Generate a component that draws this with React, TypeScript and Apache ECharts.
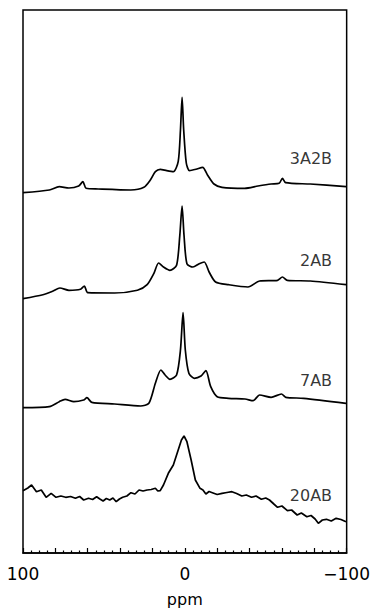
import React, { useEffect, useRef } from "react";
import * as echarts from "echarts";

// Chemical shift (ppm) and intensity (arbitrary units) for each spectrum
const ppm3A2B = [100, 83.7, 77.6, 71.6, 65.6, 63, 61, 53.5, 33.4, 25.3, 21.3, 18.2, 15.2, 11.2, 7.1, 4.1, 2.7, 1.7, 0.7, -0.9, -2.9, -6.9, -11, -14, -18, -23, -37, -45.2, -53.3, -58.3, -60.3, -62.3, -77.5, -99.6];
const int3A2B = [-2.7, 0, 3.3, 2, 4, 8.3, 1.7, 1, 0, 2.7, 10, 18.3, 20.7, 19.3, 18.3, 28.3, 60, 92.7, 60, 27, 19.3, 20.7, 22.7, 15, 6, 2.7, 1.7, 4, 6, 6.7, 11.7, 7.3, 6, 3.3];

const ppm2AB = [100, 87.7, 81.7, 77.2, 71.6, 64.5, 62.1, 60, 43.4, 29.3, 23.3, 19.2, 16.2, 13.2, 9.2, 5.1, 3.1, 1.7, 0.5, -1.3, -5, -8.9, -12, -15, -19, -27, -39, -46.2, -57.3, -60.3, -63.3, -77.5, -99.6];
const int2AB = [-8.7, -4.7, -1.3, 2, -0.3, 0.7, 4, -2.7, -3, -0.3, 5.3, 16.3, 27, 23, 19.7, 24.7, 54.7, 84, 54.7, 26.3, 23, 26.3, 28, 18, 8, 5.3, 3, 9, 9.7, 13, 9.7, 9, 5.3];

const ppm7AB = [100, 83.7, 77.6, 74, 68.6, 62.5, 60.5, 57.5, 43.4, 27.3, 22.2, 18.2, 14.8, 12.2, 9.2, 5.1, 2.7, 1.1, -0.3, -2.5, -5.9, -10, -13, -16, -20, -27, -37.2, -42.2, -46.2, -53.3, -59.7, -62.4, -73.4, -99.6];
const int7AB = [-2.7, -1.7, 3.3, 5.7, 3.3, 5, 7.3, 2.7, 1, -1, 1.7, 21.7, 35, 30, 25.7, 30, 55, 92.3, 55, 31.7, 26.7, 29, 34.3, 18.3, 8.3, 6.7, 6, 4.3, 10, 7.7, 11, 7.7, 6.7, 1.7];

const ppm20AB = [100, 97, 94.7, 91.7, 88.7, 85.7, 82.6, 79.6, 76.6, 73.6, 70.6, 67.6, 65, 62.5, 59.5, 57, 54.5, 52.5, 50.5, 48.5, 46.4, 44.4, 42.4, 40.4, 38.4, 35.8, 33.3, 30.8, 28.3, 25.8, 23.3, 20.8, 18.2, 16.7, 15.2, 13.2, 10.2, 7.1, 4.1, 2.1, 0.5, -1.3, -3.9, -6.5, -9.4, -11.2, -13, -15, -17, -20, -23, -26, -29.1, -32, -35.2, -38, -41.2, -44, -47.3, -50, -52.3, -55, -57.3, -60, -63.4, -66, -69.4, -72, -75.4, -78, -80.5, -82.5, -85, -87.5, -90.5, -93.5, -96.5, -99.6];
const int20AB = [4.3, 7, 10, 3.3, 5, -2.3, 1.7, -2.3, -1, -2.3, -1.5, -3.3, -1.5, -5, -3.3, -4.5, -1.7, -4, -6, -3.5, -5, -3, -6.7, -4, -2.3, -1, 2.3, 1, 5, 4, 5, 5.5, 6.7, 4, 4.3, 10, 21.7, 30, 45, 55, 59, 53.3, 35, 15, 6.7, 5, 1, 3.5, 2.3, 0.5, 1.7, 2.5, 3.3, 1.5, -1, 0, -2.3, -1, -4.3, -3, -5, -9, -12.3, -11, -15.7, -15, -20, -18, -21.7, -20.5, -24, -28.3, -25, -24.3, -26, -23.3, -24.5, -26.7];

const sampleNames = ["3A2B", "2AB", "7AB", "20AB"];
const ppmSets = [ppm3A2B, ppm2AB, ppm7AB, ppm20AB];
const intensitySets = [int3A2B, int2AB, int7AB, int20AB];
// vertical stacking offsets of each spectrum baseline
const stackOffsets = [363, 263, 148, 58];
// label heights above each baseline, and label anchor (ppm)
const labelLift = [32, 30, 25, 0];
const labelPpm = -91;
const smoothing = [0.25, 0.25, 0.25, 0];

const xTickLabels: Record<string, string> = { "100": "100", "0": "0", "-100": "\u2212100" };

export default function App() {
  const ref = useRef<HTMLDivElement>(null);
  useEffect(() => {
    if (!ref.current) return;
    const chart = echarts.init(ref.current, null, { renderer: "svg" });
    const font = "DejaVu Sans";
    const series = sampleNames.map((name, i) => ({
      type: "line",
      name,
      showSymbol: false,
      symbol: "none",
      smooth: smoothing[i],
      lineStyle: { color: "#000", width: 1.7 },
      data: ppmSets[i].map((p, k) => [p, intensitySets[i][k] + stackOffsets[i]]),
    }));
    const labelSeries = {
      type: "scatter",
      silent: true,
      symbolSize: 1,
      itemStyle: { color: "rgba(0,0,0,0)" },
      data: sampleNames.map((name, i) => ({
        value: [labelPpm, stackOffsets[i] + labelLift[i]],
        label: {
          show: true,
          position: "inside",
          formatter: name,
          color: "#000",
          fontFamily: font,
          fontSize: 16,
          align: "right",
          verticalAlign: "middle",
        },
      })),
    };
    chart.setOption({
      animation: false,
      backgroundColor: "#fff",
      grid: {
        left: 23,
        right: 19,
        top: 10,
        bottom: 61,
        show: true,
        borderColor: "#000",
        borderWidth: 1.5,
      },
      xAxis: {
        type: "value",
        inverse: true,
        min: -100,
        max: 100,
        interval: 20,
        name: "ppm",
        nameLocation: "middle",
        nameGap: 38,
        nameTextStyle: { color: "#000", fontFamily: font, fontSize: 16 },
        axisLine: { show: true, lineStyle: { color: "#000", width: 1.5 } },
        axisTick: { show: true, inside: true, length: 5, lineStyle: { color: "#000", width: 1.2 } },
        minorTick: { show: true, splitNumber: 4, length: 2.5, lineStyle: { color: "#000", width: 1.2 } },
        splitLine: { show: false },
        axisLabel: {
          color: "#000",
          fontFamily: font,
          fontSize: 17,
          margin: 12,
          formatter: (v: number) => xTickLabels[String(v)] ?? "",
        },
      },
      yAxis: {
        type: "value",
        min: 0,
        max: 543,
        show: false,
        splitLine: { show: false },
      },
      series: [...series, labelSeries],
    });
    return () => chart.dispose();
  }, []);
  return (
    <div
      ref={ref}
      style={{ position: "fixed", left: 0, top: 0, width: 373, height: 614, background: "#fff" }}
    />
  );
}
